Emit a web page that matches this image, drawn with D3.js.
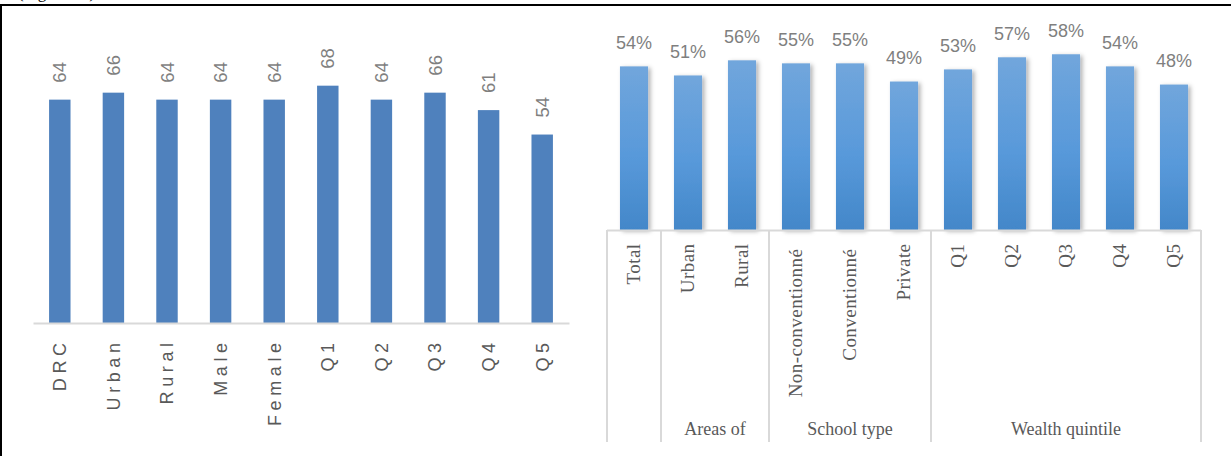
<!DOCTYPE html>
<html>
<head>
<meta charset="utf-8">
<script src="https://cdn.jsdelivr.net/npm/d3@7"></script>
<style>
  html, body { margin: 0; padding: 0; background: #fff; }
  svg { display: block; }
</style>
</head>
<body>
<svg id="fig" width="1231" height="456"></svg>
<script>
// Left panel: share by background characteristic
const leftCategories = ["DRC", "Urban", "Rural", "Male", "Female", "Q1", "Q2", "Q3", "Q4", "Q5"];
const leftValues = [64, 66, 64, 64, 64, 68, 64, 66, 61, 54];

// Right panel: share by area, school type and wealth quintile
const rightCategories = ["Total", "Urban", "Rural", "Non-conventionné\u00a0", "Conventionné\u00a0", "Private", "Q1", "Q2", "Q3", "Q4", "Q5"];
const rightValues = [0.54, 0.51, 0.56, 0.55, 0.55, 0.49, 0.53, 0.57, 0.58, 0.54, 0.48];

// Category groups on the right axis (index ranges into rightCategories)
const groupNames = ["", "Areas of", "School type", "Wealth quintile"];
const groupStarts = [0, 1, 3, 6];
const groupEnds = [1, 3, 6, 11];

const captionText = "(Figure 10)";

const svg = d3.select("#fig");

// ---- frame of the figure box
svg.append("text")
  .attr("x", 18).attr("y", -2)
  .attr("font-family", "Liberation Serif, serif")
  .attr("font-size", 17).attr("fill", "#000")
  .text(captionText);
svg.append("line").attr("x1", 0).attr("x2", 1231).attr("y1", 5).attr("y2", 5)
  .attr("stroke", "#000").attr("stroke-width", 2);
svg.append("line").attr("x1", 1).attr("x2", 1).attr("y1", 4).attr("y2", 456)
  .attr("stroke", "#000").attr("stroke-width", 2);

// ================= Left chart =================
const xL = d3.scaleBand().domain(leftCategories).range([33, 569])
  .paddingInner(0.6).paddingOuter(0.3);
const yL = d3.scaleLinear().domain([0, 80]).range([323, 323 - 80 * 3.49]);

const left = svg.append("g");
left.selectAll("rect.bar").data(leftCategories).join("rect")
  .attr("class", "bar")
  .attr("x", d => xL(d))
  .attr("width", xL.bandwidth())
  .attr("y", (d, i) => yL(leftValues[i]))
  .attr("height", (d, i) => yL(0) - yL(leftValues[i]))
  .attr("fill", "#4f81bd");

// baseline axis
const axL = left.append("g").attr("transform", `translate(0,${yL(0)})`)
  .call(d3.axisBottom(xL).tickSize(0).tickFormat(""));
axL.select(".domain").attr("stroke", "#d9d9d9").attr("stroke-width", 2);

// value labels (rotated)
left.selectAll("text.val").data(leftCategories).join("text")
  .attr("class", "val")
  .attr("transform", (d, i) => `translate(${xL(d) + xL.bandwidth() / 2},${yL(leftValues[i]) - 17}) rotate(-90)`)
  .attr("dy", "0.36em")
  .attr("text-anchor", "start")
  .attr("font-family", "Liberation Sans, Arial, sans-serif")
  .attr("font-size", 18.5)
  .attr("fill", "#7f7f7f")
  .text((d, i) => leftValues[i]);

// category labels (rotated, letter-spaced)
const ls = 4.6;
left.selectAll("text.cat").data(leftCategories).join("text")
  .attr("class", "cat")
  .attr("transform", d => `translate(${xL(d) + xL.bandwidth() / 2},${343 - ls}) rotate(-90)`)
  .attr("dy", "0.36em")
  .attr("text-anchor", "end")
  .attr("letter-spacing", ls)
  .attr("font-family", "Liberation Sans, Arial, sans-serif")
  .attr("font-size", 18)
  .attr("fill", "#595959")
  .text(d => d);

// ================= Right chart =================
const defs = svg.append("defs");
const grad = defs.append("linearGradient").attr("id", "barGrad")
  .attr("x1", 0).attr("y1", 0).attr("x2", 0).attr("y2", 1);
grad.append("stop").attr("offset", "0%").attr("stop-color", "#71a6dc");
grad.append("stop").attr("offset", "55%").attr("stop-color", "#5899da");
grad.append("stop").attr("offset", "100%").attr("stop-color", "#4387c9");

const shadow = defs.append("filter").attr("id", "barShadow")
  .attr("x", "-30%").attr("y", "-10%").attr("width", "180%").attr("height", "130%");
shadow.append("feDropShadow").attr("dx", 2.5).attr("dy", 1.5)
  .attr("stdDeviation", 2.2).attr("flood-color", "#000").attr("flood-opacity", 0.3);

const xR = d3.scaleBand().domain(rightCategories).range([607, 1201])
  .paddingInner(0.48).paddingOuter(0.24);
const yR = d3.scaleLinear().domain([0, 0.6]).range([230, 230 - 60 * 3.03]);

const right = svg.append("g");
right.selectAll("rect.bar").data(rightCategories).join("rect")
  .attr("class", "bar")
  .attr("x", d => xR(d))
  .attr("width", xR.bandwidth())
  .attr("y", (d, i) => yR(rightValues[i]))
  .attr("height", (d, i) => yR(0) - yR(rightValues[i]))
  .attr("fill", "url(#barGrad)")
  .attr("filter", "url(#barShadow)");

right.selectAll("text.val").data(rightCategories).join("text")
  .attr("class", "val")
  .attr("x", d => xR(d) + xR.bandwidth() / 2)
  .attr("y", (d, i) => yR(rightValues[i]) - 17.5)
  .attr("text-anchor", "middle")
  .attr("font-family", "Liberation Sans, Arial, sans-serif")
  .attr("font-size", 18)
  .attr("fill", "#7f7f7f")
  .text((d, i) => d3.format(".0%")(rightValues[i]));

// category frame: top rule and group separators
const step = xR.step();
const left0 = xR.range()[0];
const frameBottom = 442;
right.append("line")
  .attr("x1", left0).attr("x2", xR.range()[1])
  .attr("y1", yR(0) + 0.5).attr("y2", yR(0) + 0.5)
  .attr("stroke", "#d9d9d9").attr("stroke-width", 2);
const seps = groupStarts.concat([groupEnds[groupEnds.length - 1]]);
right.selectAll("line.sep").data(seps).join("line")
  .attr("class", "sep")
  .attr("x1", d => left0 + d * step).attr("x2", d => left0 + d * step)
  .attr("y1", yR(0)).attr("y2", frameBottom)
  .attr("stroke", "#d9d9d9").attr("stroke-width", 2);

right.selectAll("text.cat").data(rightCategories).join("text")
  .attr("class", "cat")
  .attr("transform", d => `translate(${xR(d) + xR.bandwidth() / 2},243.5) rotate(-90)`)
  .attr("dy", "0.33em")
  .attr("text-anchor", "end")
  .attr("letter-spacing", 0.45)
  .style("white-space", "pre")
  .attr("font-family", "Liberation Serif, 'Times New Roman', serif")
  .attr("font-size", 19)
  .attr("fill", "#595959")
  .text(d => d);

right.selectAll("text.grp").data(groupNames).join("text")
  .attr("class", "grp")
  .attr("x", (d, i) => left0 + (groupStarts[i] + groupEnds[i]) / 2 * step)
  .attr("y", 435)
  .attr("text-anchor", "middle")
  .attr("font-family", "Liberation Serif, 'Times New Roman', serif")
  .attr("font-size", 18)
  .attr("fill", "#595959")
  .text(d => d);
</script>
</body>
</html>
